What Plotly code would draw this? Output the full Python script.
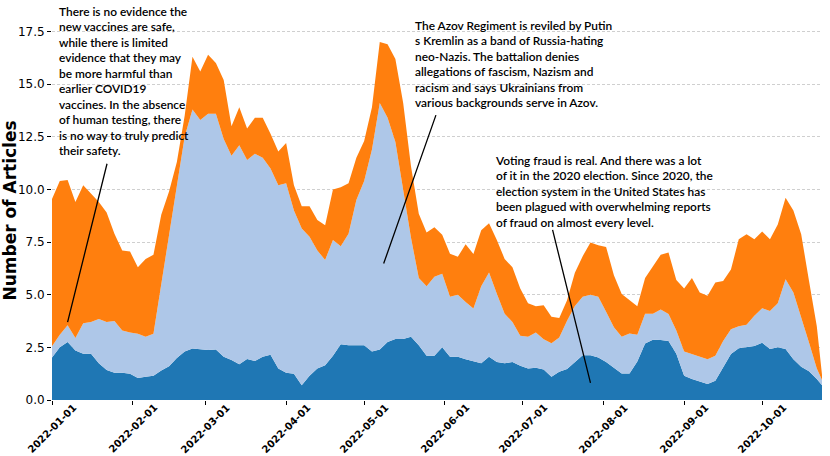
import pandas as pd
import plotly.graph_objects as go

# dates of the rolling series (every 3 days, last point on Oct 24)
dates = pd.date_range("2022-01-01", "2022-10-22", freq="3D").append(pd.DatetimeIndex(["2022-10-24"]))

# stacked edges (cumulative height of each layer)
dark_edge = [2.02, 2.5, 2.75, 2.35, 2.2, 2.2, 1.75, 1.42, 1.3, 1.3, 1.25, 1.05, 1.1, 1.15, 1.4, 1.6, 2.0, 2.3, 2.45, 2.4,
             2.38, 2.4, 2.05, 1.9, 1.7, 1.95,
             1.85, 2.05, 2.15, 1.5, 1.3, 1.25, 0.7, 1.15, 1.5, 1.65, 2.1, 2.65, 2.6, 2.6, 2.6, 2.3, 2.4, 2.75, 2.9, 2.9,
             3.0, 2.6, 2.1, 2.1, 2.5,
             2.05, 2.05, 1.93, 1.85, 1.74, 2.05, 1.8, 1.74, 1.8, 1.63, 1.5, 1.53, 1.45, 1.1, 1.34, 1.47, 1.82, 2.13, 2.13,
             2.02, 1.8, 1.55, 1.26, 1.26,
             1.83, 2.68, 2.86, 2.85, 2.8, 2.2, 1.15, 1.0, 0.87, 0.76, 0.92, 1.55, 2.18, 2.46, 2.53, 2.57, 2.72, 2.42, 2.5,
             2.42, 1.94, 1.58, 1.36, 1.0,
             0.7]

light_edge = [2.55, 3.1, 3.55, 2.95, 3.65, 3.7, 3.85, 3.7, 3.75, 3.3, 3.2, 3.15, 3.0, 3.15, 5.5, 7.8, 10.3, 12.5, 13.8, 13.3,
              13.6, 13.6, 12.4, 11.6, 12.1, 11.4,
              11.7, 11.5, 11.0, 10.2, 10.3, 9.0, 8.15, 7.75, 7.1, 6.65, 7.6, 7.3, 7.9, 9.5, 10.4, 11.9, 14.1, 13.4, 12.25,
              10.0, 7.7, 5.8, 5.4, 5.85, 6.0,
              4.9, 5.0, 4.66, 4.35, 5.4, 6.05, 5.05, 4.1, 3.7, 3.05, 3.0, 3.2, 2.88, 2.7, 2.97, 3.76, 4.46, 4.9, 5.0, 4.9,
              4.19, 3.45, 3.0, 3.16,
              3.1, 4.1, 4.1, 4.3, 4.08, 3.3, 2.3, 2.18, 2.07, 1.94, 2.1, 2.8, 3.36, 3.5, 3.57, 4.0, 4.36, 4.23, 4.6, 5.73,
              5.1, 3.95, 2.73, 1.5,
              0.95]

orange_edge = [9.55, 10.4, 10.45, 9.4, 10.2, 9.8, 9.4, 8.9, 7.9, 7.1, 7.05, 6.3, 6.7, 6.9, 8.8, 9.9, 11.3, 13.5, 16.3, 15.6,
               16.4, 16.0, 15.2, 13.0, 13.9, 12.9,
               13.4, 13.4, 12.65, 11.8, 12.2, 10.2, 9.2, 9.2, 8.55, 8.3, 10.0, 10.1, 10.3, 11.5, 12.3, 13.9, 17.0, 16.9,
               16.2, 14.1, 11.1, 8.85, 7.95, 8.2, 7.85,
               6.95, 6.8, 7.4, 6.93, 8.06, 8.4, 7.6, 6.7, 6.3, 5.3, 4.6, 4.45, 4.5, 3.95, 3.9, 4.74, 6.04, 6.83, 7.48, 7.35,
               7.27, 5.93, 5.03, 4.74,
               4.45, 5.8, 6.33, 6.9, 7.0, 5.7, 5.3, 5.8, 5.1, 4.95, 5.58, 5.65, 6.2, 7.63, 7.87, 7.63, 8.0, 7.63, 8.34, 9.6,
               9.0, 7.87, 5.66, 3.5,
               1.2]

month_ticks = ["2022-01-01", "2022-02-01", "2022-03-01", "2022-04-01", "2022-05-01",
               "2022-06-01", "2022-07-01", "2022-08-01", "2022-09-01", "2022-10-01"]
y_ticks = [0, 2.5, 5, 7.5, 10, 12.5, 15, 17.5]

notes = [
    "There is no evidence the<br>new vaccines are safe,<br>while there is limited<br>evidence that they may<br>"
    "be more harmful than<br>earlier COVID19<br>vaccines. In the absence<br>of human testing, there<br>"
    "is no way to truly predict<br>their safety.",
    "The Azov Regiment is reviled by Putin<br>s Kremlin as a band of Russia-hating<br>neo-Nazis. The battalion denies<br>"
    "allegations of fascism, Nazism and<br>racism and says Ukrainians from<br>various backgrounds serve in Azov.",
    "Voting fraud is real. And there was a lot<br>of it in the 2020 election. Since 2020, the<br>"
    "election system in the United States has<br>been plagued with overwhelming reports<br>of fraud on almost every level.",
]
# where each pointer line ends (date, value) and starts
note_points = [("2022-01-07", 3.7), ("2022-05-08 12:00", 6.48), ("2022-07-27", 0.81)]
note_tails = [("2022-01-22 07:00", 11.29), ("2022-05-28 19:00", 13.6), ("2022-07-12 07:00", 8.15)]

fig = go.Figure()
fig.add_trace(go.Scatter(x=dates, y=dark_edge, mode="lines", line=dict(width=0),
                         fill="tozeroy", fillcolor="#1f77b4", hoverinfo="skip"))
fig.add_trace(go.Scatter(x=dates, y=light_edge, mode="lines", line=dict(width=0),
                         fill="tonexty", fillcolor="#aec7e8", hoverinfo="skip"))
fig.add_trace(go.Scatter(x=dates, y=orange_edge, mode="lines", line=dict(width=0),
                         fill="tonexty", fillcolor="#ff7f0e", hoverinfo="skip"))

fig.update_xaxes(type="date", range=["2022-01-01", "2022-10-24"], tickvals=month_ticks,
                 showticklabels=False, ticks="outside", ticklen=4, tickwidth=0.8, tickcolor="black",
                 showgrid=False, showline=False, zeroline=False)
fig.update_yaxes(range=[0, 18], tickvals=y_ticks, tickformat=".1f", ticks="outside", ticklen=4,
                 tickwidth=0.8, tickcolor="black", tickfont=dict(family="DejaVu Sans", size=12, color="black"),
                 showgrid=True, gridcolor="#cfcfcf", gridwidth=0.8, griddash="3px,2px",
                 showline=False, zeroline=False,
                 title=dict(text="<b>Number of Articles</b>", standoff=2,
                            font=dict(family="DejaVu Sans", size=17, color="black")))

# rotated month labels, centred on their ticks
for t in month_ticks:
    fig.add_annotation(x=t, y=-0.0747, xref="x", yref="paper", text=t, showarrow=False,
                       textangle=-45, xanchor="center", yanchor="middle",
                       font=dict(family="DejaVu Sans", size=10, color="black", weight="bold"))

text_pos = [(0.0065, 0.8425), (0.4688, 0.8865), (0.5727, 0.5496)]
for txt, (px_, py_) in zip(notes, text_pos):
    fig.add_annotation(x=px_, y=py_, xref="paper", yref="paper", text=txt, showarrow=False,
                       xanchor="left", yanchor="middle", align="left",
                       font=dict(family="Lato", size=11.9, color="black", weight=600))

for (hx, hy), (tx, ty) in zip(note_points, note_tails):
    fig.add_annotation(x=hx, y=hy, ax=tx, ay=ty, xref="x", yref="y", axref="x", ayref="y",
                       text="", showarrow=True, arrowhead=0, arrowwidth=1.3, arrowcolor="black",
                       standoff=0, startstandoff=0)

fig.update_layout(width=830, height=456, showlegend=False, template="none",
                  plot_bgcolor="white", paper_bgcolor="white", hovermode=False,
                  margin=dict(t=21, b=56, l=52, r=8))

# drop the browser's default body margin so the figure fills the window
fig.write_html("out.html", config={"displayModeBar": False},
               post_script="document.body.style.margin = '0';")
